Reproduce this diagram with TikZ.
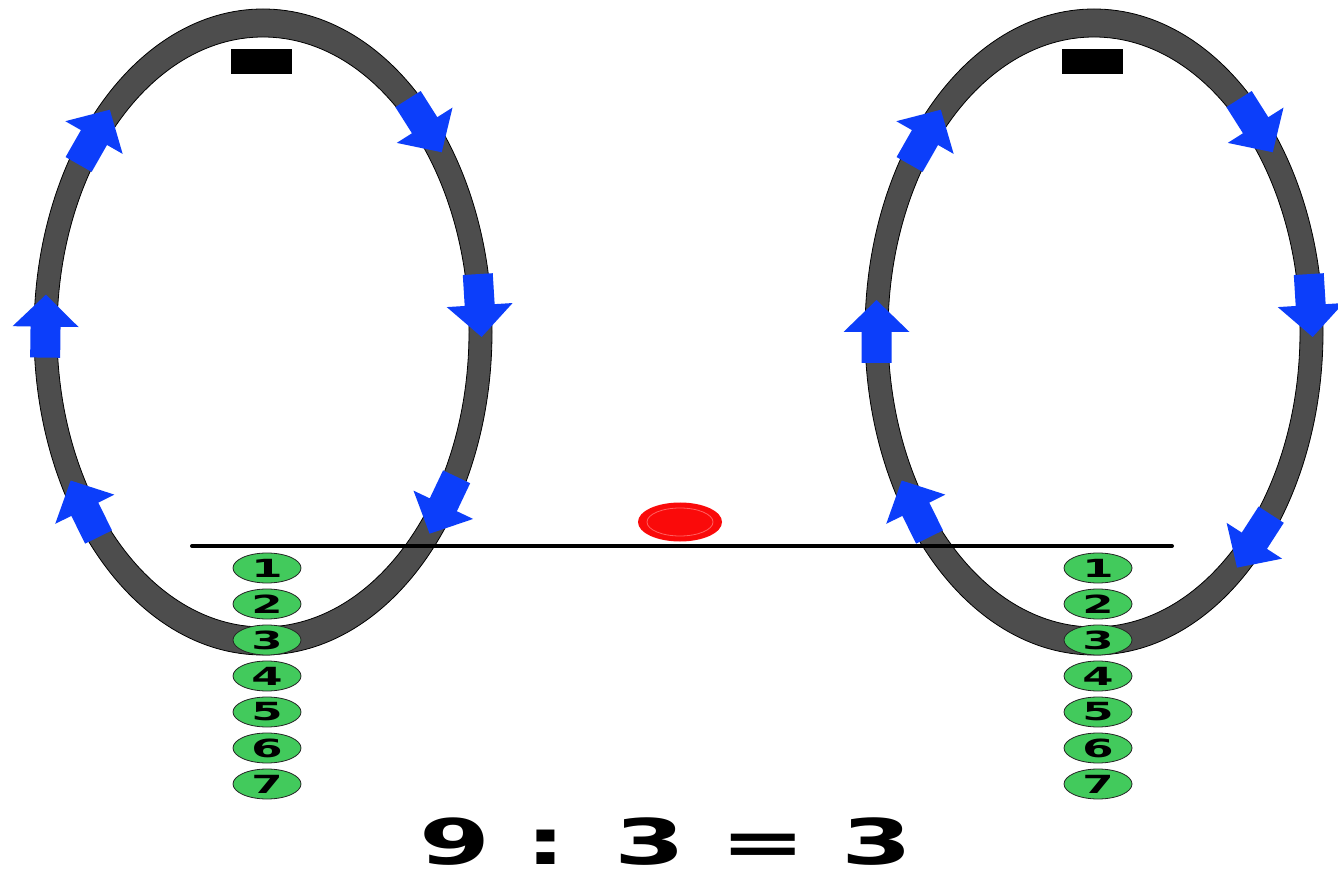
\documentclass[tikz,border=0pt]{standalone}
\usepackage{fontspec}
\setmainfont{DejaVu Sans}
\usepackage{graphicx}
\usetikzlibrary{shapes.geometric}
\definecolor{ringgray}{RGB}{77,77,77}
\definecolor{arrowblue}{RGB}{12,62,250}
\definecolor{numgreen}{RGB}{66,202,92}
\definecolor{dotred}{RGB}{250,10,10}
\definecolor{dotring}{RGB}{255,95,95}
\newcommand\flowarrow[3]{%
  \pgfmathsetmacro\fpx{#1+217.5*cos(#3)}%
  \pgfmathsetmacro\fpy{#2+309*sin(#3)}%
  \pgfmathsetmacro\fang{atan2(-309*cos(#3),217.5*sin(#3))}%
  \fill[arrowblue, shift={(\fpx,\fpy)}, rotate=\fang]
    (-31,-15) -- (0,-15) -- (0,-33) -- (32,0) -- (0,33) -- (0,15) -- (-31,15) -- cycle;}
\tikzset{
  ring/.style={fill=ringgray, even odd rule, draw=black, line width=0.8pt},
  numnode/.style={ellipse, draw=black!85, line width=0.8pt, fill=numgreen,
    minimum width=68pt, minimum height=30pt, inner sep=0pt,
    font=\fontsize{25}{25}\selectfont\bfseries},
  magnet/.style={fill=black},
}
\begin{document}
\begin{tikzpicture}[x=1pt,y=1pt]
\useasboundingbox (0,0) rectangle (1338,871);
\fill[white] (0,0) rectangle (1338,871);
% rings
\fill[ring] (263,539) ellipse [x radius=229, y radius=323]
            (263,539) ellipse [x radius=206, y radius=295];
\fill[ring] (1094,539) ellipse [x radius=229, y radius=323]
            (1094,539) ellipse [x radius=206, y radius=295];
% black blocks
\fill[magnet] (231,797) rectangle (292,822);
\fill[magnet] (1062,797) rectangle (1123,822);
% blue arrows, left ring
\flowarrow{263}{539}{141}
\flowarrow{263}{539}{179}
\flowarrow{263}{539}{215}
\flowarrow{263}{539}{42}
\flowarrow{263}{539}{5}
\flowarrow{263}{539}{-34}
% blue arrows, right ring
\flowarrow{1094}{539}{141}
\flowarrow{1094}{539}{180}
\flowarrow{1094}{539}{215}
\flowarrow{1094}{539}{42}
\flowarrow{1094}{539}{5}
\flowarrow{1094}{539}{-42.5}
% horizontal line
\coordinate (hl) at (192,325);
\coordinate (hr) at (1172,325);
\draw[line width=4pt, line cap=round] (hl) -- (hr);
% red dot
\node[ellipse, fill=dotred, minimum width=84pt, minimum height=39pt, inner sep=0pt] (dot) at (680,349) {};
\draw[dotring, line width=0.8pt] (dot.center) ellipse [x radius=33, y radius=14];
% numbered beads
\foreach \i in {1,...,7} {
  \node[numnode] (L\i) at (267,{303-36*(\i-1)}) {\scalebox{1.8}[1]{\i}};
  \node[numnode] (R\i) at (1098,{303-36*(\i-1)}) {\scalebox{1.8}[1]{\i}};
}
% equation
\node[font=\fontsize{63}{63}\selectfont\bfseries, inner sep=0pt, anchor=base] (eq) at (666,7) {\scalebox{1.62}[1]{9 : 3 = 3}};
\end{tikzpicture}
\end{document}
